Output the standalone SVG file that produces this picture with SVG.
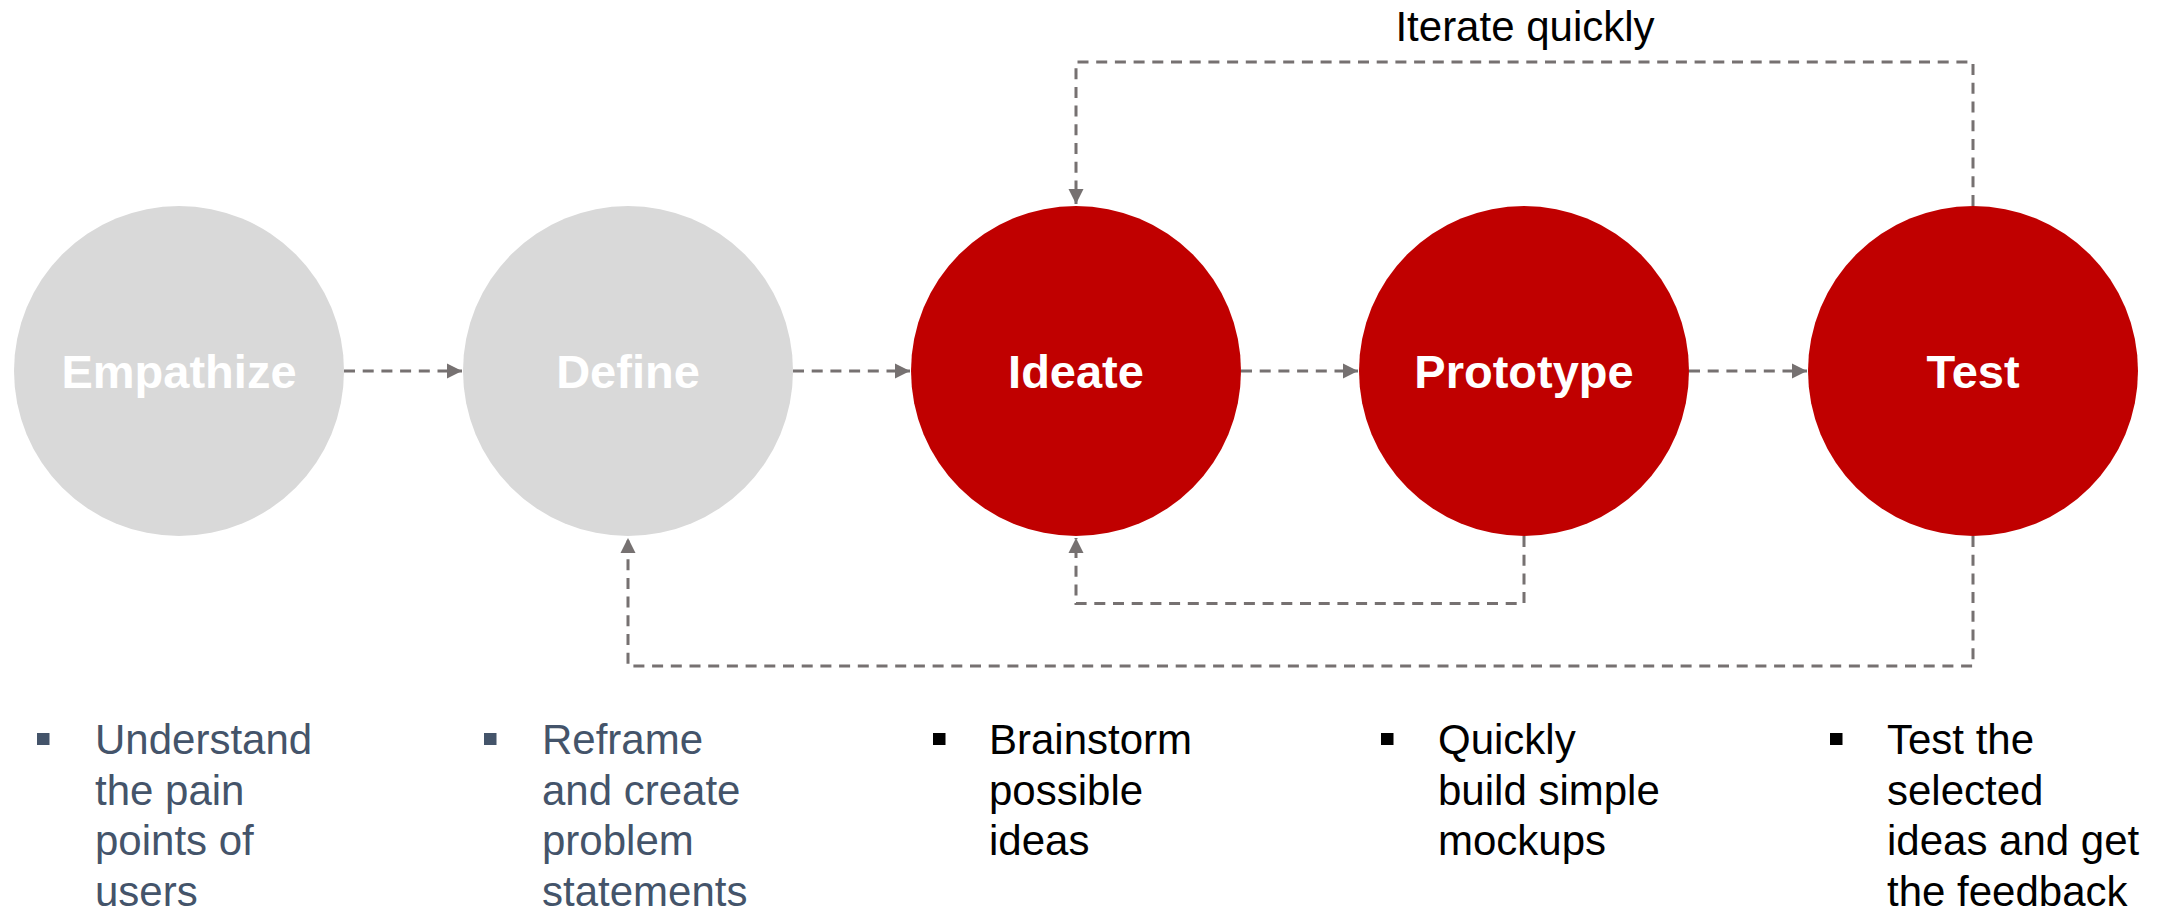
<svg xmlns="http://www.w3.org/2000/svg" width="2165" height="911" viewBox="0 0 2165 911">
  <style>
    .gray { fill: #D9D9D9; }
    .red { fill: #C00000; }
    .label { font-family: "Liberation Sans", Arial, sans-serif; font-weight: bold; font-size: 47px; fill: #FFFFFF; text-anchor: middle; }
    .conn { fill: none; stroke: #767171; stroke-width: 3; stroke-dasharray: 11 7.7; }
    .note { font-family: "Liberation Sans", Arial, sans-serif; font-size: 42px; fill: #000000; }
    .desc { font-family: "Liberation Sans", Arial, sans-serif; font-size: 42px; }
    .slate { fill: #44546A; }
    .black { fill: #000000; }
  </style>
  <defs>
    <marker id="arrow" markerUnits="userSpaceOnUse" markerWidth="16" markerHeight="16" viewBox="0 0 16 16" refX="15" refY="8" orient="auto">
      <path d="M0,0.5 L15,8 L0,15.5 Z" fill="#767171"/>
    </marker>
  </defs>
  <rect width="2165" height="911" fill="#FFFFFF"/>

  <g id="connectors">
    <path class="conn" d="M344,371 H462" marker-end="url(#arrow)"/>
    <path class="conn" d="M793,371 H910" marker-end="url(#arrow)"/>
    <path class="conn" d="M1241,371 H1358" marker-end="url(#arrow)"/>
    <path class="conn" d="M1689,371 H1807" marker-end="url(#arrow)"/>
    <path class="conn" d="M1973,206 V62 H1076 V204" marker-end="url(#arrow)"/>
    <path class="conn" d="M1524,536 V603.5 H1076 V538" marker-end="url(#arrow)"/>
    <path class="conn" d="M1973,536 V666 H628 V538" marker-end="url(#arrow)"/>
    <text class="note" x="1525" y="40.5" text-anchor="middle">Iterate quickly</text>
  </g>

  <g id="empathize">
    <circle class="gray" cx="179" cy="371" r="165"/>
    <text class="label" x="179" y="388">Empathize</text>
    <rect class="slate" x="37" y="733" width="12.5" height="12"/>
    <text class="desc slate" x="95">
      <tspan x="95" y="754">Understand</tspan>
      <tspan x="95" y="804.5">the pain</tspan>
      <tspan x="95" y="855">points of</tspan>
      <tspan x="95" y="905.5">users</tspan>
    </text>
  </g>

  <g id="define">
    <circle class="gray" cx="628" cy="371" r="165"/>
    <text class="label" x="628" y="388">Define</text>
    <rect class="slate" x="484" y="733" width="12.5" height="12"/>
    <text class="desc slate" x="542">
      <tspan x="542" y="754">Reframe</tspan>
      <tspan x="542" y="804.5">and create</tspan>
      <tspan x="542" y="855">problem</tspan>
      <tspan x="542" y="905.5">statements</tspan>
    </text>
  </g>

  <g id="ideate">
    <circle class="red" cx="1076" cy="371" r="165"/>
    <text class="label" x="1076" y="388">Ideate</text>
    <rect class="black" x="933" y="733" width="12.5" height="12"/>
    <text class="desc black" x="989">
      <tspan x="989" y="754">Brainstorm</tspan>
      <tspan x="989" y="804.5">possible</tspan>
      <tspan x="989" y="855">ideas</tspan>
    </text>
  </g>

  <g id="prototype">
    <circle class="red" cx="1524" cy="371" r="165"/>
    <text class="label" x="1524" y="388">Prototype</text>
    <rect class="black" x="1381" y="733" width="12.5" height="12"/>
    <text class="desc black" x="1438">
      <tspan x="1438" y="754">Quickly</tspan>
      <tspan x="1438" y="804.5">build simple</tspan>
      <tspan x="1438" y="855">mockups</tspan>
    </text>
  </g>

  <g id="test">
    <circle class="red" cx="1973" cy="371" r="165"/>
    <text class="label" x="1973" y="388">Test</text>
    <rect class="black" x="1830" y="733" width="12.5" height="12"/>
    <text class="desc black" x="1887">
      <tspan x="1887" y="754">Test the</tspan>
      <tspan x="1887" y="804.5">selected</tspan>
      <tspan x="1887" y="855">ideas and get</tspan>
      <tspan x="1887" y="905.5">the feedback</tspan>
    </text>
  </g>
</svg>
